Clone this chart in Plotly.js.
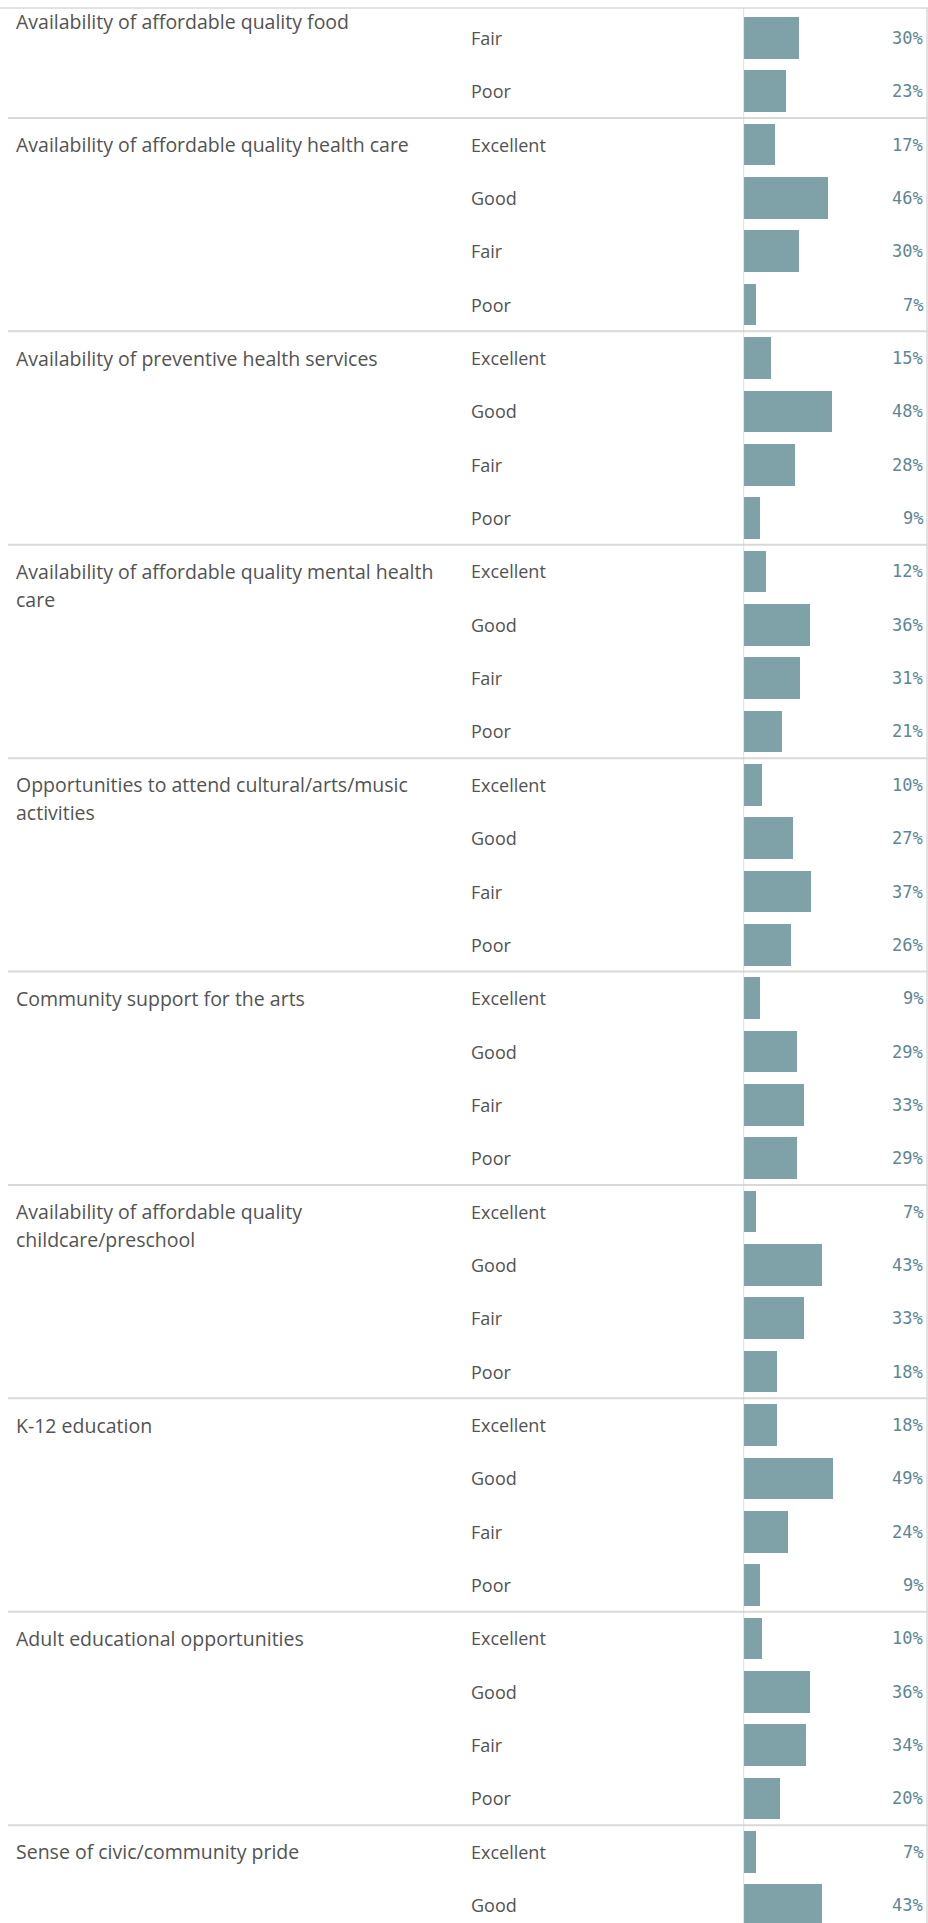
<!DOCTYPE html>
<html>
<head>
<meta charset="utf-8">
<script src="https://cdn.plot.ly/plotly-3.0.1.min.js"></script>
<style>
  html, body { margin: 0; padding: 0; background: #ffffff; }
  #chart { width: 928px; height: 1923px; }
</style>
</head>
<body>
<div id="chart"></div>
<script>
// ---- data ----
const ratings = ["Excellent", "Good", "Fair", "Poor"];

const groups = [
  "Availability of affordable quality food",
  "Availability of affordable quality health care",
  "Availability of preventive health services",
  "Availability of affordable quality mental health\ncare",
  "Opportunities to attend cultural/arts/music\nactivities",
  "Community support for the arts",
  "Availability of affordable quality\nchildcare/preschool",
  "K-12 education",
  "Adult educational opportunities",
  "Sense of civic/community pride"
];

// share of responses (%) per group, in the order of `ratings`;
// null = row scrolled out of view in the reference
const shares = [
  [null, null, 30, 23],
  [17, 46, 30, 7],
  [15, 48, 28, 9],
  [12, 36, 31, 21],
  [10, 27, 37, 26],
  [9, 29, 33, 29],
  [7, 43, 33, 18],
  [18, 49, 24, 9],
  [10, 36, 34, 20],
  [7, 43, null, null]
];

// ---- layout constants ----
const W = 928, H = 1923;
const ROW_PX = 53.35;          // height of one rating row
const FIRST_ROW = 2;           // first row visible at the top
const FIRST_ROW_CENTER_PX = 37.9;
const yTop = FIRST_ROW - FIRST_ROW_CENTER_PX / ROW_PX;
const yBottom = yTop + H / ROW_PX;

const TEXT = "#535353";
const BAR = "#7fa1a8";
const LABEL = "#5e8792";
const RULE = "#d9d9d9";
const FONT = "'Open Sans', 'Noto Sans', sans-serif";

// ---- build rows ----
const ys = [], xs = [];
const annotations = [];
const shapes = [];

groups.forEach((g, gi) => {
  const lines = g.split("\n");
  ratings.forEach((r, ri) => {
    const v = shares[gi][ri];
    const idx = gi * ratings.length + ri;
    if (v === null) return;
    ys.push(idx);
    xs.push(v);
    annotations.push({
      xref: "paper", yref: "y",
      x: 469 / W, y: idx,
      xanchor: "left", yanchor: "middle",
      text: r, showarrow: false,
      font: { family: FONT, size: 18, color: TEXT }
    });
    // value label, right-aligned at the pane's right edge
    annotations.push({
      xref: "x", yref: "y",
      x: 100, y: idx, xshift: -2,
      xanchor: "right", yanchor: "middle",
      text: v + "%", showarrow: false,
      font: { family: "'DejaVu Sans Mono', monospace", size: 17, color: LABEL }
    });
  });
  const groupStart = gi * ratings.length;
  lines.forEach((ln, li) => {
    if (groupStart < yTop) {
      // group header scrolled partly out: sticks to the top of the view
      annotations.push({
        xref: "paper", yref: "paper",
        x: 14 / W, y: 1 - 22 / H - li * 28 / H,
        xanchor: "left", yanchor: "middle",
        text: ln, showarrow: false,
        font: { family: FONT, size: 19.5, color: TEXT }
      });
    } else {
      annotations.push({
        xref: "paper", yref: "y",
        x: 14 / W, y: groupStart, yshift: -li * 28,
        xanchor: "left", yanchor: "middle",
        text: ln, showarrow: false,
        font: { family: FONT, size: 19.5, color: TEXT }
      });
    }
  });
  if (gi > 0) {
    shapes.push({
      type: "line", xref: "paper", yref: "y",
      x0: 8 / W, x1: 1, y0: groupStart - 0.5, y1: groupStart - 0.5,
      line: { color: RULE, width: 2 }
    });
  }
});

// top border, zero line, right border
shapes.push({
  type: "line", xref: "paper", yref: "paper",
  x0: 0, x1: 1, y0: 1 - 8 / H, y1: 1 - 8 / H,
  line: { color: RULE, width: 1.5 }
});
shapes.push({
  type: "line", xref: "x", yref: "paper",
  x0: 0, x1: 0, y0: 0, y1: 1 - 8 / H,
  line: { color: "#c9c9c9", width: 1.2 }
});
shapes.push({
  type: "line", xref: "paper", yref: "paper",
  x0: 1 - 1 / W, x1: 1 - 1 / W, y0: 0, y1: 1 - 8 / H,
  line: { color: RULE, width: 1.5 }
});

const bars = {
  type: "bar", orientation: "h",
  x: xs, y: ys,
  width: 0.78,
  marker: { color: BAR, line: { width: 0 } },
  hoverinfo: "skip"
};

const layout = {
  width: W, height: H,
  margin: { l: 0, r: 0, t: 0, b: 0, pad: 0 },
  paper_bgcolor: "#ffffff",
  plot_bgcolor: "rgba(0,0,0,0)",
  showlegend: false,
  bargap: 0,
  xaxis: {
    domain: [743.5 / W, 927 / W],
    range: [0, 100],
    visible: false, fixedrange: true
  },
  yaxis: {
    range: [yBottom, yTop],
    visible: false, fixedrange: true
  },
  shapes: shapes,
  annotations: annotations
};

Plotly.newPlot("chart", [bars], layout, { displayModeBar: false, staticPlot: true });
</script>
</body>
</html>
